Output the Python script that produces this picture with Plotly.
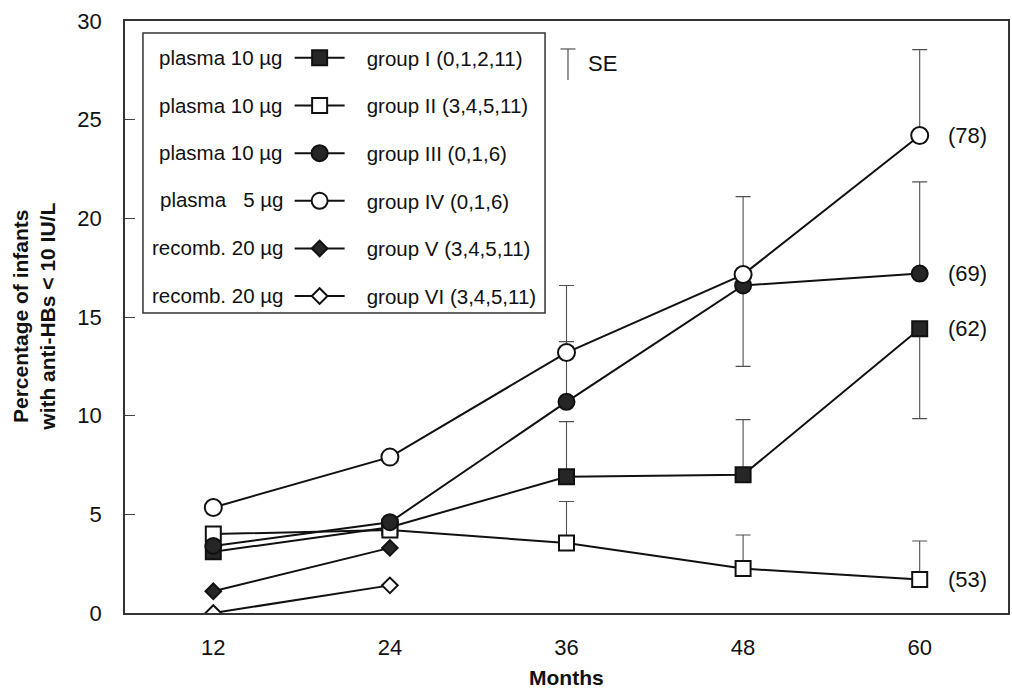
import plotly.graph_objects as go

# Follow-up time points (months after the first dose)
months = [12, 24, 36, 48, 60]

# Percentage of infants with anti-HBs < 10 IU/L, per vaccine group
group_i = [3.1, 4.35, 6.9, 7.0, 14.4]
group_ii = [4.0, 4.2, 3.55, 2.25, 1.7]
group_iii = [3.4, 4.6, 10.7, 16.6, 17.2]
group_iv = [5.35, 7.9, 13.2, 17.15, 24.2]
group_v = [1.1, 3.3]
group_vi = [0.0, 1.4]

# Standard errors (upper / lower half shown; 0 = not drawn)
se_up_i = [0, 0, 2.8, 2.8, 0]
se_dn_i = [0, 0, 0, 0, 4.55]
se_up_ii = [0, 0, 2.1, 1.7, 1.95]
se_dn_ii = [0, 0, 0, 0, 0]
se_up_iii = [0, 0, 3.05, 0, 4.65]
se_dn_iii = [0, 0, 0, 4.1, 0]
se_up_iv = [0, 0, 3.4, 3.95, 4.35]
se_dn_iv = [0, 0, 0, 0, 0]

# Number of infants at 60 months
n_labels = {"group_i": "(62)", "group_ii": "(53)", "group_iii": "(69)", "group_iv": "(78)"}

# Legend texts
vaccines = ["plasma 10 µg", "plasma 10 µg", "plasma 10 µg",
            "plasma \u00a0 5 µg", "recomb. 20 µg", "recomb. 20 µg"]
groups = ["group I (0,1,2,11)", "group II (3,4,5,11)", "group III (0,1,6)",
          "group IV (0,1,6)", "group V (3,4,5,11)", "group VI (3,4,5,11)"]

FONT = "Liberation Sans, Arial, Helvetica, sans-serif"
INK = "#111111"
DARK = "#262626"
ERR = "#505050"
PAD = "\u00a0\u00a0\u00a0"

# plot area in pixels (for placing the legend frame and key labels)
L, R, T, B = 125, 1010, 21, 613
def px(x):
    return (x - L) / (R - L)
def py(y):
    return (B - y) / (B - T)

fig = go.Figure()

def err(up, dn):
    return dict(type="data", symmetric=False, array=up, arrayminus=dn,
                color=ERR, thickness=1.1, width=7.5)

series = [
    (months, group_i, "square", DARK, 15, err(se_up_i, se_dn_i)),
    (months, group_ii, "square", "white", 15, err(se_up_ii, se_dn_ii)),
    (months, group_iii, "circle", DARK, 16, err(se_up_iii, se_dn_iii)),
    (months, group_iv, "circle", "white", 17, err(se_up_iv, se_dn_iv)),
    (months[:2], group_v, "diamond", DARK, 12, None),
    (months[:2], group_vi, "diamond", "white", 12, None),
]

for k, (xs, ys, sym, fill, size, e) in enumerate(series):
    fig.add_trace(go.Scatter(
        x=xs, y=ys, mode="lines+markers",
        name=PAD + groups[k], legendgroup=f"g{k}",
        line=dict(color=INK, width=2),
        marker=dict(symbol=sym, size=size, color=fill,
                    line=dict(color=INK, width=2)),
        error_y=e if e is not None else dict(visible=False),
    ))

# sample-size labels beside the 60-month points
for vals, key in [(group_iv, "group_iv"), (group_iii, "group_iii"),
                  (group_i, "group_i"), (group_ii, "group_ii")]:
    fig.add_annotation(x=months[-1], y=vals[-1], text=n_labels[key],
                       xanchor="left", yanchor="middle", xshift=26,
                       showarrow=False, font=dict(family=FONT, size=22, color=INK))

# vaccine labels to the left of each legend key
rows = [57, 105, 152, 199, 247, 295]
for txt, r in zip(vaccines, rows):
    fig.add_annotation(xref="paper", yref="paper", x=px(285), y=py(r), text=txt,
                       xanchor="right", yanchor="middle", showarrow=False,
                       font=dict(family=FONT, size=20.5, color=INK))

shapes = [
    # legend frame
    dict(type="rect", xref="paper", yref="paper", x0=px(143), x1=px(546),
         y0=py(313), y1=py(33), line=dict(color="#333333", width=1.5)),
    # SE key
    dict(type="line", xref="paper", yref="paper", x0=px(569), x1=px(569),
         y0=py(49), y1=py(80), line=dict(color=ERR, width=1.2)),
    dict(type="line", xref="paper", yref="paper", x0=px(561.5), x1=px(576.5),
         y0=py(49), y1=py(49), line=dict(color=ERR, width=1.2)),
]
fig.add_annotation(xref="paper", yref="paper", x=px(587), y=py(64), text="SE",
                   xanchor="left", yanchor="middle", showarrow=False,
                   font=dict(family=FONT, size=22, color=INK))

# axis titles
fig.add_annotation(xref="paper", yref="paper", x=0.5, y=py(677), text="<b>Months</b>",
                   xanchor="center", yanchor="middle", showarrow=False,
                   font=dict(family=FONT, size=21, color=INK))
fig.add_annotation(xref="paper", yref="paper", x=px(33.5), y=0.5,
                   text="<b>Percentage of infants<br>with anti-HBs < 10 IU/L</b>",
                   textangle=-90, xanchor="center", yanchor="middle", showarrow=False,
                   font=dict(family=FONT, size=21, color=INK))

fig.update_layout(
    width=1012, height=688,
    margin=dict(l=L, r=1012 - R, t=T, b=688 - B),
    paper_bgcolor="white", plot_bgcolor="white",
    font=dict(family=FONT, size=20, color=INK),
    shapes=shapes,
    showlegend=True,
    legend=dict(x=px(290), y=py(38), xanchor="left", yanchor="top",
                bgcolor="rgba(0,0,0,0)", borderwidth=0,
                traceorder="grouped", tracegroupgap=18, itemwidth=50,
                font=dict(family=FONT, size=20.5, color=INK)),
    xaxis=dict(range=[6, 66], tickvals=months, ticks="", showgrid=False,
               zeroline=False, showline=True, mirror=True, linecolor="#333333",
               linewidth=1.5, tickfont=dict(family=FONT, size=22, color=INK),
               ticklabelstandoff=14),
    yaxis=dict(range=[0, 30], dtick=5, ticks="inside", ticklen=10, tickwidth=1.2,
               tickcolor="#444444", showgrid=False, zeroline=False, showline=True,
               mirror=True, linecolor="#333333", linewidth=1.5,
               tickfont=dict(family=FONT, size=22, color=INK), ticklabelstandoff=17),
)

fig.write_html("out.html")
